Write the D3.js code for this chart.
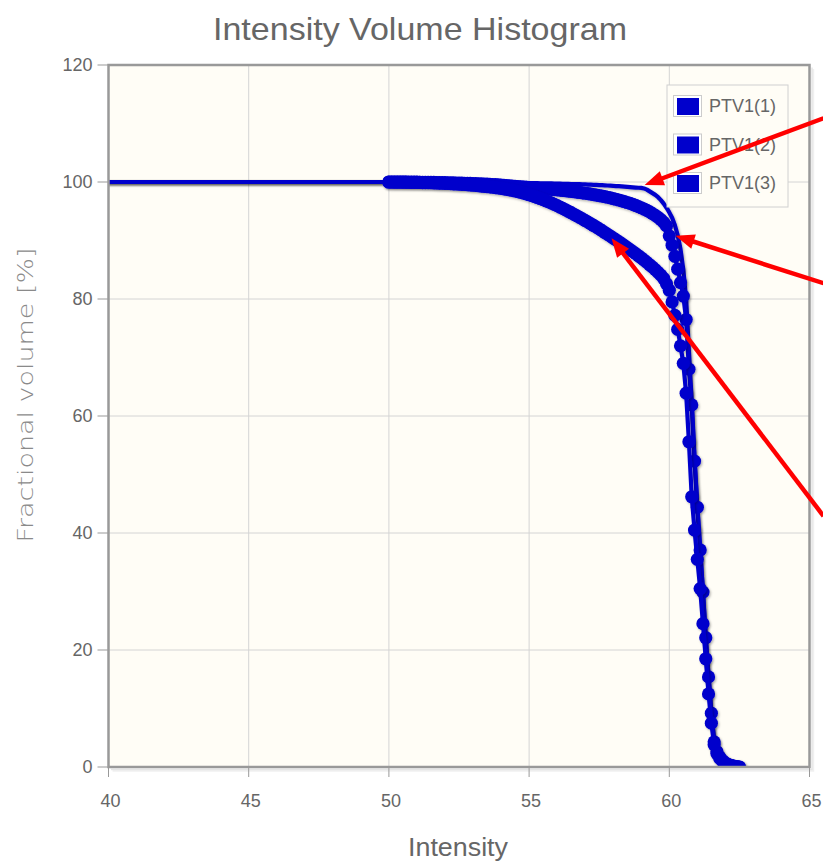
<!DOCTYPE html>
<html>
<head>
<meta charset="utf-8">
<script src="https://cdnjs.cloudflare.com/ajax/libs/d3/7.8.5/d3.min.js"></script>
<style>
  body { margin: 0; background: #fff; }
  svg text { font-family: "Liberation Sans", Arial, sans-serif; }
</style>
</head>
<body>
<div id="chart"></div>
<script>
// intensity bins (first point sits off the left of the axis, only the line reaches in)
const intensity = [0,
  50.0,50.1,50.2,50.3,50.4,50.5,50.6,50.7,50.8,50.9,
  51.0,51.1,51.2,51.3,51.4,51.5,51.6,51.7,51.8,51.9,
  52.0,52.1,52.2,52.3,52.4,52.5,52.6,52.7,52.8,52.9,
  53.0,53.1,53.2,53.3,53.4,53.5,53.6,53.7,53.8,53.9,
  54.0,54.1,54.2,54.3,54.4,54.5,54.6,54.7,54.8,54.9,
  55.0,55.1,55.2,55.3,55.4,55.5,55.6,55.7,55.8,55.9,
  56.0,56.1,56.2,56.3,56.4,56.5,56.6,56.7,56.8,56.9,
  57.0,57.1,57.2,57.3,57.4,57.5,57.6,57.7,57.8,57.9,
  58.0,58.1,58.2,58.3,58.4,58.5,58.6,58.7,58.8,58.9,
  59.0,59.1,59.2,59.3,59.4,59.5,59.6,59.7,59.8,59.9,
  60.0,60.1,60.2,60.3,60.4,60.5,60.6,60.7,60.8,60.9,
  61.0,61.1,61.2,61.3,61.4,61.5,61.6,61.7,61.8,61.9,
  62.0,62.1,62.2,62.3,62.4,62.5];

const ptv1 = [100,
  100,100,100,100,100,100,100,100,100,100,
  100,100,100,100,100,100,100,100,100,100,
  100,100,100,100,100,99.98,99.98,99.97,99.97,99.96,
  99.96,99.95,99.95,99.94,99.94,99.93,99.93,99.92,99.92,99.91,
  99.9,99.9,99.89,99.88,99.88,99.87,99.86,99.86,99.85,99.84,
  99.83,99.82,99.81,99.8,99.79,99.78,99.77,99.76,99.75,99.74,
  99.73,99.72,99.7,99.69,99.68,99.66,99.65,99.63,99.62,99.6,
  99.58,99.56,99.54,99.52,99.5,99.48,99.45,99.43,99.4,99.37,
  99.34,99.31,99.28,99.24,99.2,99.16,99.12,99.08,99.05,99.02,
  99.0,98.9,98.7,98.4,98.1,97.8,97.4,96.9,96.3,95.6,
  94.8,93.9,92.6,90.9,88.5,85.0,80.0,71.0,62.5,52.8,
  44.6,37.2,30.0,22.2,15.5,9.3,4.4,2.6,1.7,1.1,
  0.7,0.4,0.3,0.15,0.05,0];

const ptv2 = [100,
  100,100,100,100,100,99.99,99.99,99.98,99.98,99.97,
  99.97,99.96,99.95,99.95,99.94,99.93,99.92,99.91,99.9,99.89,
  99.88,99.87,99.86,99.85,99.83,99.82,99.8,99.79,99.77,99.75,
  99.73,99.71,99.69,99.67,99.65,99.62,99.6,99.57,99.54,99.51,
  99.45,99.41,99.37,99.33,99.29,99.25,99.21,99.17,99.13,99.09,
  99.05,99.01,98.97,98.93,98.89,98.85,98.81,98.77,98.73,98.69,
  98.65,98.6,98.55,98.5,98.45,98.4,98.34,98.28,98.21,98.15,
  98.08,98.01,97.93,97.85,97.77,97.68,97.59,97.49,97.39,97.28,
  97.17,97.05,96.92,96.79,96.65,96.5,96.34,96.17,95.99,95.8,
  95.6,95.38,95.14,94.88,94.6,94.29,93.95,93.56,93.1,92.5,
  90.8,89.2,87.3,85.1,82.8,80.5,76.5,68.0,61.9,52.3,
  44.4,37.1,29.9,22.1,15.4,9.2,4.3,2.6,1.7,1.1,
  0.7,0.4,0.3,0.15,0.05,0];

const ptv3 = [100,
  100,100,99.99,99.99,99.98,99.98,99.97,99.96,99.95,99.94,
  99.93,99.92,99.91,99.9,99.88,99.87,99.85,99.83,99.81,99.79,
  99.77,99.75,99.72,99.69,99.66,99.63,99.6,99.57,99.53,99.49,
  99.45,99.41,99.36,99.31,99.26,99.21,99.16,99.1,99.04,98.98,
  98.9,98.82,98.74,98.65,98.56,98.46,98.35,98.23,98.1,97.96,
  97.82,97.67,97.51,97.34,97.16,96.98,96.79,96.59,96.38,96.17,
  95.95,95.72,95.49,95.25,95.0,94.75,94.49,94.23,93.96,93.69,
  93.42,93.14,92.86,92.57,92.28,91.98,91.68,91.37,91.06,90.75,
  90.43,90.11,89.79,89.46,89.13,88.79,88.45,88.1,87.75,87.39,
  87.02,86.64,86.25,85.85,85.44,85.01,84.56,84.08,83.5,82.6,
  81.5,79.5,77.2,74.8,72.0,69.0,63.9,55.6,46.2,40.5,
  35.5,30.5,24.5,18.5,12.5,7.5,3.8,2.3,1.5,1.0,
  0.6,0.4,0.25,0.12,0.05,0];

const seriesNames = ["PTV1(1)", "PTV1(2)", "PTV1(3)"];
const seriesValues = [ptv1, ptv2, ptv3];
const seriesMarkers = [false, true, true];

const xTicks = [40, 45, 50, 55, 60, 65];
const yTicks = [0, 20, 40, 60, 80, 100, 120];

// red call-out arrows, in data units: [intensity, volume]
const arrowTails = [[65.5, 110.9], [65.5, 82.7], [65.5, 42.9]];
const arrowTips  = [[59.12, 99.5], [60.22, 90.8], [57.94, 90.4]];

const W = 823, H = 861;
const blue = "#0000cc";

const svg = d3.select("#chart").append("svg")
  .attr("width", W).attr("height", H);

const x = d3.scaleLinear().domain([40, 65]).range([108.5, 809.5]);
const y = d3.scaleLinear().domain([0, 120]).range([767, 65]);

const defs = svg.append("defs");
defs.append("clipPath").attr("id", "plotClip")
  .append("rect")
  .attr("x", x(40)).attr("y", y(120))
  .attr("width", x(65) - x(40)).attr("height", y(0) - y(120));

const shadow = defs.append("filter").attr("id", "shadow")
  .attr("x", "-5%").attr("y", "-5%").attr("width", "110%").attr("height", "110%");
shadow.append("feDropShadow")
  .attr("dx", 1.2).attr("dy", 1.4).attr("stdDeviation", 0.9)
  .attr("flood-color", "#000").attr("flood-opacity", 0.3);

// plot background
svg.append("rect")
  .attr("x", x(40)).attr("y", y(120))
  .attr("width", x(65) - x(40)).attr("height", y(0) - y(120))
  .attr("fill", "#fffdf6");

// grid
svg.append("g").selectAll("line")
  .data(xTicks.slice(1, -1)).enter().append("line")
  .attr("x1", d => x(d)).attr("x2", d => x(d))
  .attr("y1", y(120)).attr("y2", y(0))
  .attr("stroke", "#d4d4d4").attr("stroke-width", 1);
svg.append("g").selectAll("line")
  .data(yTicks.slice(1, -1)).enter().append("line")
  .attr("x1", x(40)).attr("x2", x(65))
  .attr("y1", d => y(d)).attr("y2", d => y(d))
  .attr("stroke", "#d4d4d4").attr("stroke-width", 1);

// border shadow
[2.5, 4].forEach((off, i) => {
  svg.append("path")
    .attr("d", `M${x(40) + off},${y(0) + off}H${x(65) + off}V${y(120) + off}`)
    .attr("fill", "none")
    .attr("stroke", "rgba(0,0,0," + (i ? 0.06 : 0.1) + ")")
    .attr("stroke-width", 1.5);
});

// ticks + labels
svg.append("g").selectAll("line")
  .data(yTicks).enter().append("line")
  .attr("x1", x(40) - 11).attr("x2", x(40))
  .attr("y1", d => y(d)).attr("y2", d => y(d))
  .attr("stroke", "#999").attr("stroke-width", 1);
svg.append("g").selectAll("text")
  .data(yTicks).enter().append("text")
  .attr("x", x(40) - 16).attr("y", d => y(d)).attr("dy", "0.36em")
  .attr("text-anchor", "end")
  .attr("font-size", 18).attr("fill", "#666")
  .text(d => d);

svg.append("g").selectAll("line")
  .data(xTicks).enter().append("line")
  .attr("x1", d => x(d)).attr("x2", d => x(d))
  .attr("y1", y(0)).attr("y2", y(0) + 10)
  .attr("stroke", "#999").attr("stroke-width", 1);
svg.append("g").selectAll("text")
  .data(xTicks).enter().append("text")
  .attr("x", d => x(d) + 2).attr("y", y(0) + 40)
  .attr("text-anchor", "middle")
  .attr("font-size", 18).attr("fill", "#666")
  .text(d => d);

// series
const line = d3.line()
  .x((d, i) => x(intensity[i]))
  .y(d => y(d));

const plot = svg.append("g").attr("clip-path", "url(#plotClip)");

seriesValues.forEach((vals, s) => {
  const g = plot.append("g").attr("filter", "url(#shadow)");
  g.append("path")
    .datum(vals)
    .attr("d", line)
    .attr("fill", "none")
    .attr("stroke", blue)
    .attr("stroke-width", 4.2)
    .attr("stroke-linejoin", "round");
  if (seriesMarkers[s]) {
    g.selectAll("circle")
      .data(vals).enter().append("circle")
      .attr("cx", (d, i) => x(intensity[i]))
      .attr("cy", d => y(d))
      .attr("r", 6.6)
      .attr("fill", blue);
  }
});

// border
svg.append("rect")
  .attr("x", x(40)).attr("y", y(120))
  .attr("width", x(65) - x(40)).attr("height", y(0) - y(120))
  .attr("fill", "none").attr("stroke", "#999").attr("stroke-width", 2.5);

// legend
const legend = svg.append("g").attr("transform", "translate(667,85)");
legend.append("rect")
  .attr("width", 121).attr("height", 122)
  .attr("fill", "#fffdf6").attr("stroke", "#d0d0d0").attr("stroke-width", 1);
seriesNames.forEach((name, i) => {
  const row = legend.append("g").attr("transform", `translate(0,${21 + i * 38.5})`);
  row.append("rect")
    .attr("x", 6.5).attr("y", -10.5).attr("width", 28).attr("height", 21)
    .attr("fill", "#fff").attr("stroke", "#ccc").attr("stroke-width", 1);
  row.append("rect")
    .attr("x", 10).attr("y", -8).attr("width", 22).attr("height", 17)
    .attr("fill", blue);
  row.append("text")
    .attr("x", 42).attr("y", 0).attr("dy", "0.36em")
    .attr("font-size", 18).attr("fill", "#666")
    .text(name);
});

// titles
svg.append("text")
  .attr("x", 420).attr("y", 40)
  .attr("text-anchor", "middle")
  .attr("font-size", 32).attr("fill", "#666")
  .attr("textLength", 414).attr("lengthAdjust", "spacingAndGlyphs")
  .text("Intensity Volume Histogram");

svg.append("text")
  .attr("x", 458).attr("y", 856)
  .attr("text-anchor", "middle")
  .attr("font-size", 26).attr("fill", "#666")
  .attr("textLength", 100).attr("lengthAdjust", "spacingAndGlyphs")
  .text("Intensity");

svg.append("text")
  .attr("transform", "translate(33,395) rotate(-90)")
  .attr("text-anchor", "middle")
  .style("font-family", "'DejaVu Sans', sans-serif")
  .attr("font-weight", 200)
  .attr("font-size", 22).attr("fill", "#8a8a8a")
  .attr("textLength", 295).attr("lengthAdjust", "spacingAndGlyphs")
  .text("Fractional volume [%]");

// arrows
const arrowG = svg.append("g");
arrowTails.forEach((t, i) => {
  const x0 = x(t[0]), y0 = y(t[1]);
  const x1 = x(arrowTips[i][0]), y1 = y(arrowTips[i][1]);
  const ang = Math.atan2(y1 - y0, x1 - x0);
  const len = 19, half = 7.5;
  const bx = x1 - len * Math.cos(ang), by = y1 - len * Math.sin(ang);
  arrowG.append("line")
    .attr("x1", x0).attr("y1", y0).attr("x2", bx + 2 * Math.cos(ang)).attr("y2", by + 2 * Math.sin(ang))
    .attr("stroke", "#f00").attr("stroke-width", 4.5);
  arrowG.append("polygon")
    .attr("points", [
      [x1, y1],
      [bx + half * Math.sin(ang), by - half * Math.cos(ang)],
      [bx - half * Math.sin(ang), by + half * Math.cos(ang)]
    ].map(p => p.join(",")).join(" "))
    .attr("fill", "#f00");
});
</script>
</body>
</html>
